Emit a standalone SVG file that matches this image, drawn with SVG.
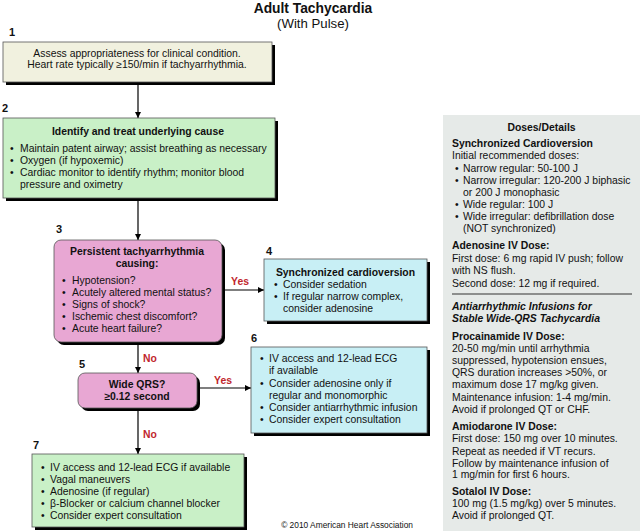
<svg xmlns="http://www.w3.org/2000/svg" width="640" height="532" viewBox="0 0 640 532">
<defs>
<marker id="ah" viewBox="0 0 10 10" refX="10" refY="5" markerWidth="7" markerHeight="6" orient="auto" markerUnits="userSpaceOnUse"><path d="M0,0 L10,5 L0,10 z" fill="#000"/></marker>
</defs>
<style>
text{font-family:"Liberation Sans",Arial,Helvetica,sans-serif;font-size:10.4px;fill:#111}
.b{font-weight:bold}
.i{font-style:italic}
.c{text-anchor:middle}
.n{font-weight:bold;font-size:11px}
.r{fill:#c1272d;font-weight:bold}
.sh{fill:#000}
.box{stroke:#555;stroke-width:0.8}
.beige{fill:#f1f1df}
.green{fill:#c9f0c7}
.pink{fill:#e8a7d3}
.cyan{fill:#c8eff5}
.ln{stroke:#000;stroke-width:1.2;fill:none}
</style>
<rect width="640" height="532" fill="#fff"/>

<g id="title">
<text x="313" y="12.6" class="b c" style="font-size:13.8px">Adult Tachycardia</text>
<text x="313" y="27.6" class="c" style="font-size:13.2px">(With Pulse)</text>
</g>

<g id="panel">
<rect x="443" y="115" width="197" height="416" fill="#e6eae8"/>
<text x="541.5" y="131" class="b c">Doses/Details</text>
<text x="452" y="147" class="b">Synchronized Cardioversion</text>
<text x="452" y="159">Initial recommended doses:</text>
<text x="455" y="172">•</text><text x="463" y="172">Narrow regular: 50-100 J</text>
<text x="455" y="184">•</text><text x="463" y="184">Narrow irregular: 120-200 J biphasic</text>
<text x="463" y="196">or 200 J monophasic</text>
<text x="455" y="208">•</text><text x="463" y="208">Wide regular: 100 J</text>
<text x="455" y="220">•</text><text x="463" y="220">Wide irregular: defibrillation dose</text>
<text x="463" y="232">(NOT synchronized)</text>
<text x="452" y="249" class="b">Adenosine IV Dose:</text>
<text x="452" y="262">First dose: 6 mg rapid IV push; follow</text>
<text x="452" y="274">with NS flush.</text>
<text x="452" y="287">Second dose: 12 mg if required.</text>
<line x1="452" y1="294" x2="632" y2="294" stroke="#333" stroke-width="1"/>
<text x="452" y="310" class="b i">Antiarrhythmic Infusions for</text>
<text x="452" y="322" class="b i">Stable Wide-QRS Tachycardia</text>
<text x="452" y="340" class="b">Procainamide IV Dose:</text>
<text x="452" y="352">20-50 mg/min until arrhythmia</text>
<text x="452" y="364">suppressed, hypotension ensues,</text>
<text x="452" y="376">QRS duration increases &gt;50%, or</text>
<text x="452" y="388">maximum dose 17 mg/kg given.</text>
<text x="452" y="401">Maintenance infusion: 1-4 mg/min.</text>
<text x="452" y="413">Avoid if prolonged QT or CHF.</text>
<text x="452" y="430" class="b">Amiodarone IV Dose:</text>
<text x="452" y="442">First dose: 150 mg over 10 minutes.</text>
<text x="452" y="455">Repeat as needed if VT recurs.</text>
<text x="452" y="467">Follow by maintenance infusion of</text>
<text x="452" y="478">1 mg/min for first 6 hours.</text>
<text x="452" y="495" class="b">Sotalol IV Dose:</text>
<text x="452" y="507">100 mg (1.5 mg/kg) over 5 minutes.</text>
<text x="452" y="519">Avoid if prolonged QT.</text>
</g>

<g id="connectors">
<line x1="138" y1="82" x2="138" y2="118" class="ln" marker-end="url(#ah)"/>
<line x1="138" y1="198" x2="138" y2="240" class="ln" marker-end="url(#ah)"/>
<line x1="222" y1="290" x2="264" y2="290" class="ln" marker-end="url(#ah)"/>
<text x="240" y="285" class="r c">Yes</text>
<line x1="138" y1="342" x2="138" y2="373" class="ln" marker-end="url(#ah)"/>
<text x="150" y="362" class="r c">No</text>
<line x1="197" y1="388" x2="251" y2="388" class="ln" marker-end="url(#ah)"/>
<text x="223" y="384" class="r c">Yes</text>
<line x1="138" y1="408" x2="138" y2="454" class="ln" marker-end="url(#ah)"/>
<text x="150" y="438" class="r c">No</text>
</g>

<g id="node1">
<text x="9" y="36" class="n">1</text>
<rect x="6" y="45" width="269" height="40" class="sh"/>
<rect x="3" y="42" width="269" height="40" class="box beige"/>
<text x="137" y="57" class="c">Assess appropriateness for clinical condition.</text>
<text x="137" y="68" class="c">Heart rate typically ≥150/min if tachyarrhythmia.</text>
</g>

<g id="node2">
<text x="2" y="112" class="n">2</text>
<rect x="6" y="121" width="272" height="80" class="sh"/>
<rect x="3" y="118" width="272" height="80" class="box green"/>
<text x="138" y="135" class="b c">Identify and treat underlying cause</text>
<text x="10" y="152">•</text><text x="20" y="152">Maintain patent airway; assist breathing as necessary</text>
<text x="10" y="164">•</text><text x="20" y="164">Oxygen (if hypoxemic)</text>
<text x="10" y="176">•</text><text x="20" y="176">Cardiac monitor to identify rhythm; monitor blood</text>
<text x="20" y="188">pressure and oximetry</text>
</g>

<g id="node3">
<text x="56" y="233" class="n">3</text>
<rect x="57" y="243" width="168" height="102" rx="7" class="sh"/>
<rect x="54" y="240" width="168" height="102" rx="7" class="box pink"/>
<text x="137" y="255" class="b c">Persistent tachyarrhythmia</text>
<text x="137" y="267" class="b c">causing:</text>
<text x="62" y="284">•</text><text x="72" y="284">Hypotension?</text>
<text x="62" y="296">•</text><text x="72" y="296">Acutely altered mental status?</text>
<text x="62" y="308">•</text><text x="72" y="308">Signs of shock?</text>
<text x="62" y="320">•</text><text x="72" y="320">Ischemic chest discomfort?</text>
<text x="62" y="332">•</text><text x="72" y="332">Acute heart failure?</text>
</g>

<g id="node4">
<text x="266" y="255" class="n">4</text>
<rect x="267" y="262" width="163" height="62" class="sh"/>
<rect x="264" y="259" width="163" height="62" class="box cyan"/>
<text x="345.5" y="276" class="b c">Synchronized cardioversion</text>
<text x="274" y="288">•</text><text x="283" y="288">Consider sedation</text>
<text x="274" y="300">•</text><text x="283" y="300">If regular narrow complex,</text>
<text x="283" y="312">consider adenosine</text>
</g>

<g id="node5">
<text x="79" y="368" class="n">5</text>
<rect x="81" y="376" width="119" height="35" rx="7" class="sh"/>
<rect x="78" y="373" width="119" height="35" rx="7" class="box pink"/>
<text x="137" y="388" class="b c">Wide QRS?</text>
<text x="137" y="400" class="b c">≥0.12 second</text>
</g>

<g id="node6">
<text x="251" y="342" class="n">6</text>
<rect x="254" y="350" width="176" height="86" class="sh"/>
<rect x="251" y="347" width="176" height="86" class="box cyan"/>
<text x="260" y="362">•</text><text x="269" y="362">IV access and 12-lead ECG</text>
<text x="269" y="374">if available</text>
<text x="260" y="387">•</text><text x="269" y="387">Consider adenosine only if</text>
<text x="269" y="399">regular and monomorphic</text>
<text x="260" y="411">•</text><text x="269" y="411">Consider antiarrhythmic infusion</text>
<text x="260" y="423">•</text><text x="269" y="423">Consider expert consultation</text>
</g>

<g id="node7">
<text x="33" y="449" class="n">7</text>
<rect x="35" y="457" width="212" height="73" class="sh"/>
<rect x="32" y="454" width="212" height="73" class="box green"/>
<text x="41" y="471">•</text><text x="50" y="471">IV access and 12-lead ECG if available</text>
<text x="41" y="483">•</text><text x="50" y="483">Vagal maneuvers</text>
<text x="41" y="495">•</text><text x="50" y="495">Adenosine (if regular)</text>
<text x="41" y="507">•</text><text x="50" y="507">β-Blocker or calcium channel blocker</text>
<text x="41" y="519">•</text><text x="50" y="519">Consider expert consultation</text>
</g>

<text x="413" y="528" style="font-size:8.4px;text-anchor:end">© 2010 American Heart Association</text>
</svg>
